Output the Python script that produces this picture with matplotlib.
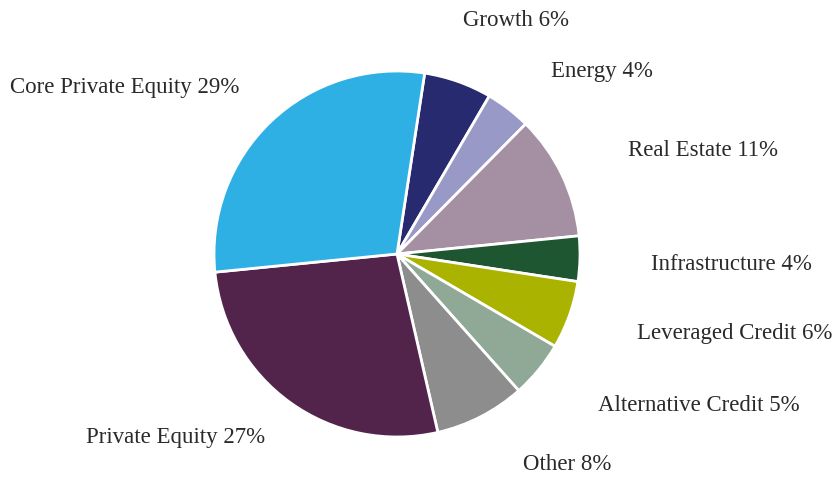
import matplotlib
matplotlib.use("Agg")
import matplotlib.pyplot as plt

# Allocation by strategy (percent), clockwise from the top
categories = ["Growth", "Energy", "Real Estate", "Infrastructure",
              "Leveraged Credit", "Alternative Credit", "Other",
              "Private Equity", "Core Private Equity"]
values = [6, 4, 11, 4, 6, 5, 8, 27, 29]
colors = ["#272a6e", "#9899c7", "#a590a3", "#1e5631", "#a9b300",
          "#8fa996", "#8d8d8d", "#53244b", "#2eb0e4"]

W, H = 834, 481
fig = plt.figure(figsize=(W / 100, H / 100), dpi=100)
ax = fig.add_axes([0, 0, 1, 1])

cx, cy, r = 397, H - 255, 183
ax.pie(values, colors=colors, startangle=81.3, counterclock=False,
       center=(cx, cy), radius=r, frame=True,
       wedgeprops=dict(edgecolor="white", linewidth=2))
ax.set_xlim(0, W)
ax.set_ylim(0, H)
ax.axis("off")

# label anchor points (pixels from top-left), centred text
label_xy = [(516, 20), (602, 72), (703, 150), (731, 265), (735, 334),
            (699, 406), (567, 465), (176, 438), (125, 87)]
for name, v, (lx, ly) in zip(categories, values, label_xy):
    ax.text(lx, H - ly, f"{name} {v}%", ha="center", va="center",
            fontsize=16.5, family="Liberation Serif", color="#2a2a2a")

fig.savefig("out.png", dpi=100)
